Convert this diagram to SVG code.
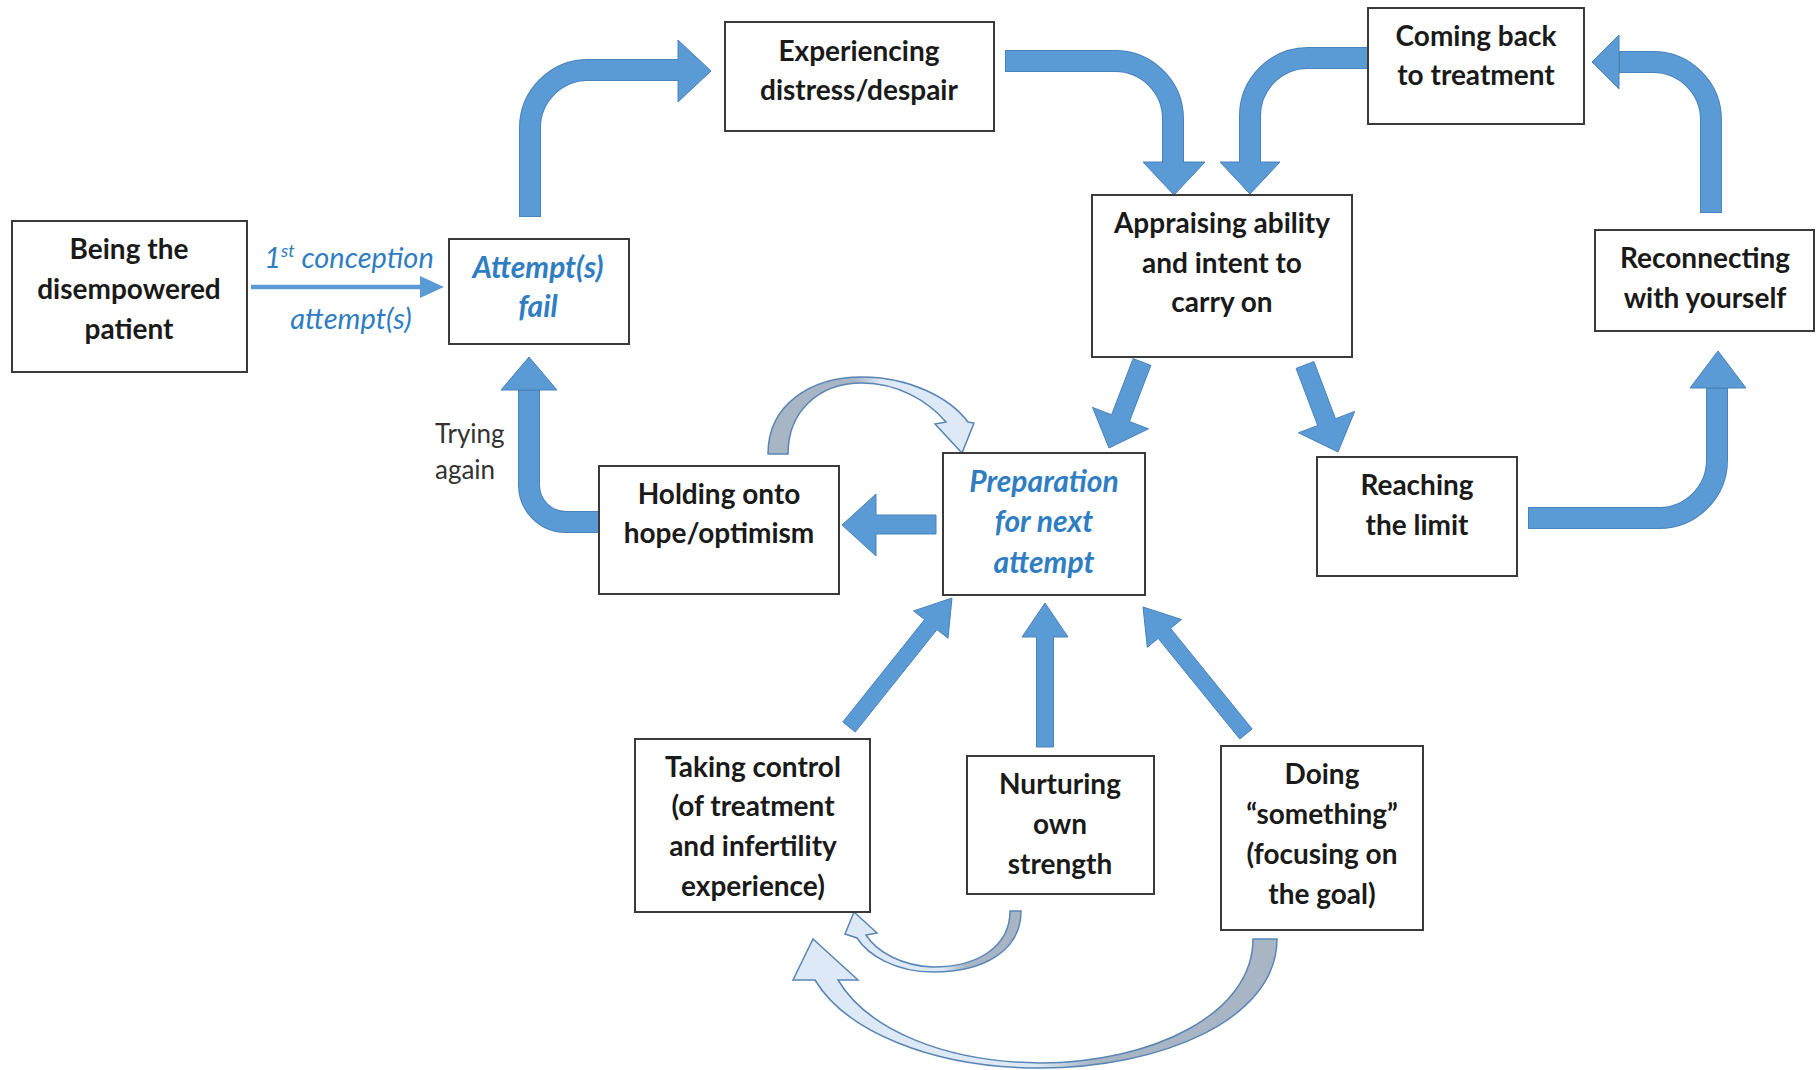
<svg xmlns="http://www.w3.org/2000/svg" width="1816" height="1070" viewBox="0 0 1816 1070">
<style>
.box{fill:#fff;stroke:#3a3a3a;stroke-width:2}
.t{font-family:Lato,"Open Sans","Liberation Sans",sans-serif;font-weight:bold;font-size:28px;fill:#1a1a1a;text-anchor:middle}
.tb{font-family:Lato,"Open Sans","Liberation Sans",sans-serif;font-weight:bold;font-style:italic;font-size:30px;fill:#2f7dc2;text-anchor:middle}
.lab{font-family:Lato,"Open Sans","Liberation Sans",sans-serif;font-style:italic;font-size:29px;fill:#2f7dc2;text-anchor:middle}
.try{font-family:Lato,"Open Sans","Liberation Sans",sans-serif;font-size:26px;fill:#333}
.sh{fill:none;stroke:#4a82bd;stroke-width:22}
.si{fill:none;stroke:#5b9bd5;stroke-width:20}
.hd{fill:#5b9bd5;stroke:#4a82bd;stroke-width:1}
.ca{stroke:#5a86b5;stroke-width:1.5}
</style>
<defs>
<linearGradient id="g1" x1="768" y1="0" x2="975" y2="0" gradientUnits="userSpaceOnUse">
<stop offset="0" stop-color="#a7b5c4"/><stop offset="0.42" stop-color="#a7b5c4"/><stop offset="0.55" stop-color="#dde9f6"/><stop offset="1" stop-color="#dde9f6"/>
</linearGradient>
<linearGradient id="g2" x1="845" y1="0" x2="1022" y2="0" gradientUnits="userSpaceOnUse">
<stop offset="0" stop-color="#dde9f6"/><stop offset="0.55" stop-color="#dde9f6"/><stop offset="0.68" stop-color="#a7b5c4"/><stop offset="1" stop-color="#a7b5c4"/>
</linearGradient>
<linearGradient id="g3" x1="793" y1="0" x2="1278" y2="0" gradientUnits="userSpaceOnUse">
<stop offset="0" stop-color="#dde9f6"/><stop offset="0.5" stop-color="#dde9f6"/><stop offset="0.62" stop-color="#a7b5c4"/><stop offset="1" stop-color="#a7b5c4"/>
</linearGradient>
</defs>

<g id="connectors">
  <!-- thin arrow: 1st conception attempt(s) -->
  <path d="M251 287 H422" stroke="#5b9bd5" stroke-width="4.5" fill="none"/>
  <polygon points="420,276 444,287 420,298" fill="#5b9bd5"/>

  <!-- curved thick arrows: outline pass -->
  <path class="sh" d="M530 217 V128 A58 58 0 0 1 588 70 H679"/>
  <path class="sh" d="M1005 61 H1115 A58 58 0 0 1 1173 119 V163"/>
  <path class="sh" d="M1368 58 H1308 A58 58 0 0 0 1250 116 V163"/>
  <path class="sh" d="M1711 213 V120 A58 58 0 0 0 1653 62 H1618"/>
  <path class="sh" d="M1528 518 H1659 A58 58 0 0 0 1717 460 V387"/>
  <path class="sh" d="M599 522 H566 A37 37 0 0 1 529 485 V389"/>
  <!-- heads -->
  <polygon class="hd" points="678,40 711,71 678,102"/>
  <polygon class="hd" points="1143,162 1205,162 1174,195"/>
  <polygon class="hd" points="1220,162 1280,162 1250,194"/>
  <polygon class="hd" points="1619,35 1592,62 1619,89"/>
  <polygon class="hd" points="1690,388 1718,351 1746,388"/>
  <polygon class="hd" points="501,390 529,357 557,390"/>
  <!-- inner pass -->
  <path class="si" d="M530 216 V128 A58 58 0 0 1 588 70 H679"/>
  <path class="si" d="M1006 61 H1115 A58 58 0 0 1 1173 119 V163"/>
  <path class="si" d="M1367 58 H1308 A58 58 0 0 0 1250 116 V163"/>
  <path class="si" d="M1711 212 V120 A58 58 0 0 0 1653 62 H1620"/>
  <path class="si" d="M1529 518 H1659 A58 58 0 0 0 1717 460 V389"/>
  <path class="si" d="M598 522 H566 A37 37 0 0 1 529 485 V391"/>

  <!-- straight thick arrows -->
  <polygon class="hd" points="1133.1,358.6 1111.6,414.7 1092.5,407.4 1109,448 1148.5,428.8 1129.4,421.5 1150.9,365.4"/>
  <polygon class="hd" points="1296.1,368.4 1317.7,425.5 1298.5,432.8 1338,452 1354.7,411.4 1335.5,418.7 1313.9,361.6"/>
  <polygon class="hd" points="936,515 876,515 876,494 842,525 876,556 876,534 936,534"/>
  <polygon class="hd" points="855.2,732 937,629.6 948,638.3 952,598 913.6,610.9 924.6,619.6 842.8,722"/>
  <polygon class="hd" points="1036.5,747 1036.5,637 1022,637 1045,603 1068,637 1053.5,637 1053.5,747"/>
  <polygon class="hd" points="1252.2,729 1170.6,628.4 1181.5,619.5 1143,607 1147.3,647.3 1158.2,638.4 1239.8,739"/>

  <!-- curved light arrows -->
  <path class="ca" fill="url(#g1)" d="M768 454 C768 405 810 377 862 377 C910 377 950 398 968 422 L974 423 L962 453 L935 424 L946 422 C928 401 898 383 862 383 C818 383 788 412 788 454 Z"/>
  <path class="ca" fill="url(#g2)" d="M1021 911 C1021 950 985 972 933 972 C895 972 868 955 857 938 L845 934 L854 912 L877 933 L866 935 C877 952 902 966 933 967 C980 967 1010 945 1010 911 Z"/>
  <path class="ca" fill="url(#g3)" d="M1277 939 C1277 1020 1160 1068 1040 1068 C930 1068 845 1030 815 980 L793 980 L813 939 L858 980 L838 980 C868 1030 945 1062 1040 1063 C1150 1063 1253 1015 1253 939 Z"/>
</g>

<g id="n-patient"><rect class="box" x="12" y="221" width="235" height="151"/>
<text class="t" x="129" y="259">Being the</text><text class="t" x="129" y="299">disempowered</text><text class="t" x="129" y="339">patient</text></g>

<g id="label-first"><text class="lab" x="349" y="268">1<tspan font-size="18" dy="-11">st</tspan><tspan dy="11"> conception</tspan></text>
<text class="lab" x="351" y="329">attempt(s)</text></g>

<g id="n-fail"><rect class="box" x="449" y="239" width="180" height="105"/>
<text class="tb" x="538" y="278">Attempt(s)</text><text class="tb" x="538" y="317">fail</text></g>

<g id="n-distress"><rect class="box" x="725" y="22" width="269" height="109"/>
<text class="t" x="859" y="61">Experiencing</text><text class="t" x="859" y="100">distress/despair</text></g>

<g id="n-coming"><rect class="box" x="1368" y="8" width="216" height="116"/>
<text class="t" x="1476" y="46">Coming back</text><text class="t" x="1476" y="85">to treatment</text></g>

<g id="n-appraising"><rect class="box" x="1092" y="195" width="260" height="162"/>
<text class="t" x="1222" y="233">Appraising ability</text><text class="t" x="1222" y="273">and intent to</text><text class="t" x="1222" y="312">carry on</text></g>

<g id="n-reconnecting"><rect class="box" x="1595" y="230" width="219" height="101"/>
<text class="t" x="1705" y="268">Reconnecting</text><text class="t" x="1705" y="308">with yourself</text></g>

<g id="n-limit"><rect class="box" x="1317" y="457" width="200" height="119"/>
<text class="t" x="1417" y="495">Reaching</text><text class="t" x="1417" y="535">the limit</text></g>

<g id="n-preparation"><rect class="box" x="943" y="453" width="202" height="142"/>
<text class="tb" x="1044" y="492">Preparation</text><text class="tb" x="1044" y="532">for next</text><text class="tb" x="1044" y="573">attempt</text></g>

<g id="n-hope"><rect class="box" x="599" y="466" width="240" height="128"/>
<text class="t" x="719" y="504">Holding onto</text><text class="t" x="719" y="543">hope/optimism</text></g>

<g id="label-trying"><text class="try" x="435" y="443">Trying</text><text class="try" x="435" y="479">again</text></g>

<g id="n-control"><rect class="box" x="635" y="739" width="235" height="173"/>
<text class="t" x="753" y="777">Taking control</text><text class="t" x="753" y="816">(of treatment</text><text class="t" x="753" y="856">and infertility</text><text class="t" x="753" y="896">experience)</text></g>

<g id="n-nurturing"><rect class="box" x="967" y="756" width="187" height="138"/>
<text class="t" x="1060" y="794">Nurturing</text><text class="t" x="1060" y="834">own</text><text class="t" x="1060" y="874">strength</text></g>

<g id="n-doing"><rect class="box" x="1221" y="746" width="202" height="184"/>
<text class="t" x="1322" y="784">Doing</text><text class="t" x="1322" y="824">“something”</text><text class="t" x="1322" y="864">(focusing on</text><text class="t" x="1322" y="904">the goal)</text></g>
</svg>
